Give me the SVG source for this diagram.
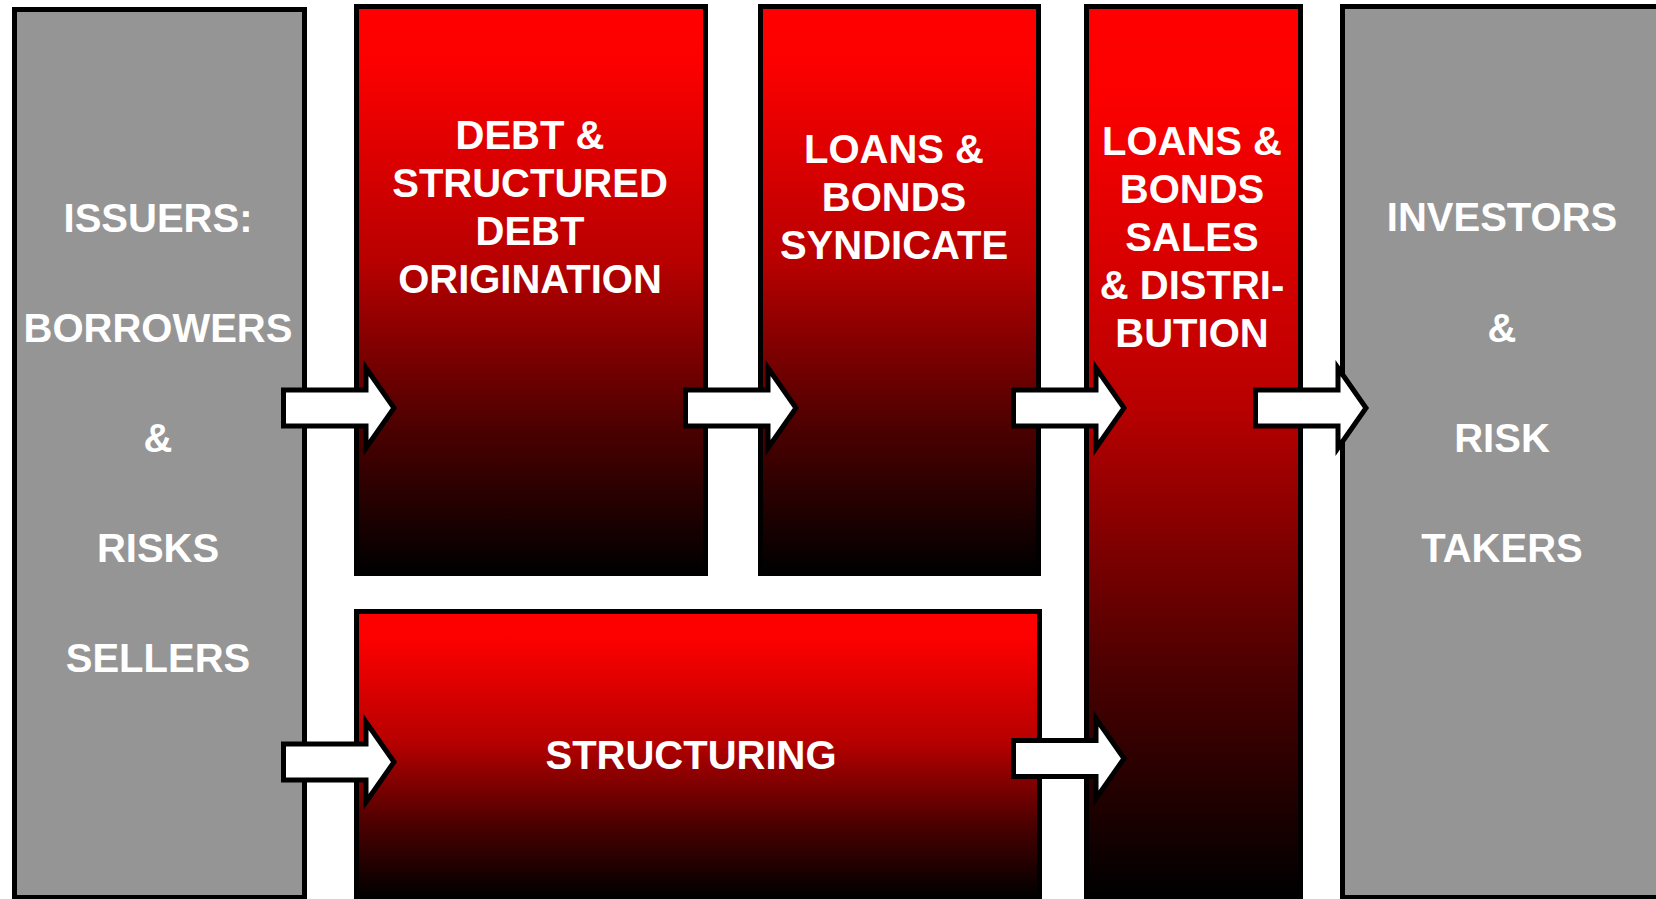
<svg xmlns="http://www.w3.org/2000/svg" width="1656" height="899" viewBox="0 0 1656 899">
  <style>
    .box { stroke: #000; stroke-width: 5; }
    .gray { fill: #959595; }
    .red { fill: url(#redFade); }
    .lbl { font-family: "Liberation Sans", Arial, sans-serif; font-weight: bold; font-size: 40px; fill: #fff; text-anchor: middle; }
    .arrow { fill: #fff; stroke: #000; stroke-width: 5; stroke-linejoin: miter; stroke-miterlimit: 10; }
  </style>
  <defs>
    <linearGradient id="redFade" x1="0" y1="0" x2="0" y2="1">
      <stop offset="0" stop-color="#ff0000"/>
      <stop offset="0.1" stop-color="#fc0000"/>
      <stop offset="0.45" stop-color="#b80000"/>
      <stop offset="0.75" stop-color="#4a0000"/>
      <stop offset="1" stop-color="#000000"/>
    </linearGradient>
    <!-- block arrow, tail at x=0, centred on y=0 -->
    <polygon id="blockArrow" points="2.5,-18 85,-18 85,-40 113,0 85,40 85,18 2.5,18"/>
  </defs>

  <g id="issuers">
    <rect class="box gray" x="14.5" y="9.5" width="290" height="888"/>
    <text class="lbl" x="158" y="232">ISSUERS:</text>
    <text class="lbl" x="158" y="342">BORROWERS</text>
    <text class="lbl" x="158" y="452">&amp;</text>
    <text class="lbl" x="158" y="562">RISKS</text>
    <text class="lbl" x="158" y="672">SELLERS</text>
  </g>

  <g id="origination">
    <rect class="box red" x="356.5" y="6.5" width="349" height="567"/>
    <text class="lbl" x="530" y="149">DEBT &amp;</text>
    <text class="lbl" x="530" y="197">STRUCTURED</text>
    <text class="lbl" x="530" y="245">DEBT</text>
    <text class="lbl" x="530" y="293">ORIGINATION</text>
  </g>

  <g id="syndicate">
    <rect class="box red" x="760.5" y="6.5" width="278" height="567"/>
    <text class="lbl" x="894" y="163">LOANS &amp;</text>
    <text class="lbl" x="894" y="211">BONDS</text>
    <text class="lbl" x="894" y="259">SYNDICATE</text>
  </g>

  <g id="sales-distribution">
    <rect class="box red" x="1086.5" y="6.5" width="214" height="891"/>
    <text class="lbl" x="1192" y="155">LOANS &amp;</text>
    <text class="lbl" x="1192" y="203">BONDS</text>
    <text class="lbl" x="1192" y="251">SALES</text>
    <text class="lbl" x="1192" y="299">&amp; DISTRI-</text>
    <text class="lbl" x="1192" y="347">BUTION</text>
  </g>

  <g id="structuring">
    <rect class="box red" x="356.5" y="611.5" width="683" height="286"/>
    <text class="lbl" x="691" y="769">STRUCTURING</text>
  </g>

  <g id="investors">
    <rect class="box gray" x="1342.5" y="6.5" width="400" height="891"/>
    <text class="lbl" x="1502" y="231">INVESTORS</text>
    <text class="lbl" x="1502" y="341.5">&amp;</text>
    <text class="lbl" x="1502" y="451.5">RISK</text>
    <text class="lbl" x="1502" y="561.5">TAKERS</text>
  </g>

  <g id="connectors">
    <use href="#blockArrow" class="arrow" transform="translate(281,408)"/>
    <use href="#blockArrow" class="arrow" transform="translate(683,408)"/>
    <use href="#blockArrow" class="arrow" transform="translate(1011,408)"/>
    <use href="#blockArrow" class="arrow" transform="translate(1253,408)"/>
    <use href="#blockArrow" class="arrow" transform="translate(281,762)"/>
    <use href="#blockArrow" class="arrow" transform="translate(1011,758.5)"/>
  </g>
</svg>
